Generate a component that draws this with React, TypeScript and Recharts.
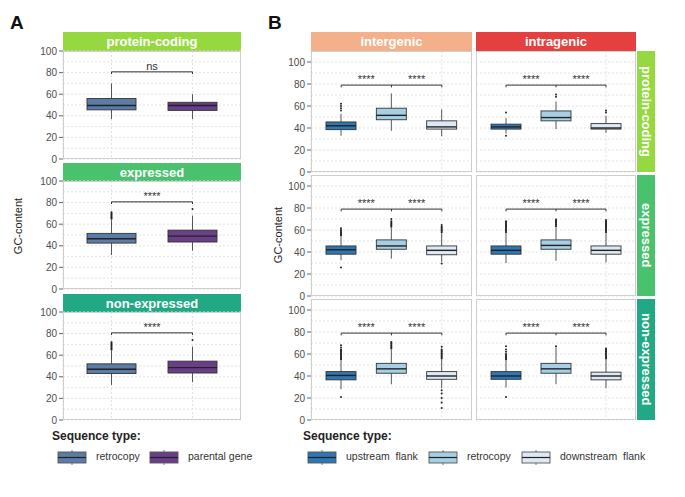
import React from 'react';
import { ComposedChart, Bar, XAxis, YAxis, ReferenceLine, CartesianGrid } from 'recharts';

// ---------- categories & colours ----------
const aTypes = ['retrocopy', 'parental gene'];
const aColors = ['#5a7ca6', '#6a3f8a'];
const facets = ['protein-coding', 'expressed', 'non-expressed'];
const facetColors = ['#95d840', '#4ac16d', '#22a884'];
const bTypes = ['upstream flank', 'retrocopy', 'downstream flank'];
const bColors = ['#2f77b2', '#a6cfe5', '#dde9f5'];
const bColumns = ['intergenic', 'intragenic'];
const bColumnColors = ['#f4b08a', '#e4403f'];
const yTicks = [0, 20, 40, 60, 80, 100];
const gridValues = [0, 10, 20, 30, 40, 50, 60, 70, 80, 90, 100];
const aSignif = ['ns', '****', '****'];
const bSignif = ['****', '****'];

// ---------- box statistics (GC-content) ----------
const aProteinCoding = [
  { type: 'retrocopy', lo: 37, q1: 45.5, med: 49.5, q3: 56, hi: 70, out: [] },
  { type: 'parental gene', lo: 37, q1: 45, med: 49.5, q3: 52.5, hi: 60, out: [] },
];
const aExpressed = [
  { type: 'retrocopy', lo: 31.5, q1: 42.5, med: 46.5, q3: 51.5, hi: 64, out: [65, 66, 67, 68, 69, 70, 71] },
  { type: 'parental gene', lo: 35.5, q1: 43.5, med: 49, q3: 54.5, hi: 68, out: [74] },
];
const aNonExpressed = [
  { type: 'retrocopy', lo: 32.5, q1: 43, med: 47, q3: 52, hi: 64, out: [65, 66, 67, 68, 69, 70, 71, 72] },
  { type: 'parental gene', lo: 35, q1: 43.5, med: 48.5, q3: 54.5, hi: 68, out: [74] },
];

const bInterProtein = [
  { type: 'upstream flank', lo: 33, q1: 38.5, med: 42, q3: 45.5, hi: 53, out: [56, 58, 60, 62] },
  { type: 'retrocopy', lo: 37.5, q1: 47.5, med: 51.5, q3: 58, hi: 71.5, out: [] },
  { type: 'downstream flank', lo: 32.5, q1: 39, med: 41, q3: 46.5, hi: 57, out: [] },
];
const bIntraProtein = [
  { type: 'upstream flank', lo: 35, q1: 39, med: 41, q3: 43.5, hi: 49, out: [54, 33] },
  { type: 'retrocopy', lo: 39, q1: 46.5, med: 49.5, q3: 55.5, hi: 64, out: [68.5, 70.5] },
  { type: 'downstream flank', lo: 35.5, q1: 39, med: 40, q3: 44, hi: 51, out: [54, 56] },
];
const bInterExpressed = [
  { type: 'upstream flank', lo: 32.5, q1: 38, med: 42, q3: 45.5, hi: 54, out: [55, 56, 57, 58, 59, 60, 61.5, 26] },
  { type: 'retrocopy', lo: 34, q1: 42.5, med: 45.5, q3: 51, hi: 62, out: [63, 64, 65, 66, 67, 68, 70] },
  { type: 'downstream flank', lo: 31, q1: 37.5, med: 41.5, q3: 45.5, hi: 57, out: [58, 59, 60, 61, 62, 63, 64.5, 29.5] },
];
const bIntraExpressed = [
  { type: 'upstream flank', lo: 30, q1: 38, med: 41.5, q3: 45.5, hi: 57, out: [58, 59, 60, 61, 62, 63, 64, 65, 66, 67, 68] },
  { type: 'retrocopy', lo: 32, q1: 42.5, med: 46, q3: 51, hi: 62.5, out: [63.5, 64.5, 65.5, 66.5, 67.5, 68.5, 69.5] },
  { type: 'downstream flank', lo: 30.5, q1: 38, med: 41.5, q3: 45.5, hi: 57, out: [58, 59, 60, 61, 62, 63, 64, 65, 66, 67, 68, 69] },
];
const bInterNonExpressed = [
  { type: 'upstream flank', lo: 28, q1: 36.5, med: 40.5, q3: 44, hi: 54, out: [55, 56, 57, 58, 59, 60, 61, 62, 63, 64, 66, 68, 21] },
  { type: 'retrocopy', lo: 32.5, q1: 42.5, med: 46.5, q3: 51.5, hi: 64, out: [65, 66, 67, 68, 69, 70, 71] },
  { type: 'downstream flank', lo: 29, q1: 37, med: 40, q3: 44, hi: 55, out: [56, 57, 58, 59, 60, 61, 62, 63, 64, 66.5, 27, 24, 20, 16, 11] },
];
const bIntraNonExpressed = [
  { type: 'upstream flank', lo: 29.5, q1: 37, med: 40, q3: 44, hi: 54, out: [55, 56, 57, 58, 59, 60, 62, 64, 67, 21] },
  { type: 'retrocopy', lo: 32.5, q1: 42.5, med: 46.5, q3: 51.5, hi: 66, out: [67] },
  { type: 'downstream flank', lo: 29, q1: 36.5, med: 40, q3: 43.5, hi: 55, out: [56, 57, 58, 59, 60, 61, 62, 63, 64, 65] },
];

const aPanels = [aProteinCoding, aExpressed, aNonExpressed];
const bPanels = [
  [bInterProtein, bIntraProtein],
  [bInterExpressed, bIntraExpressed],
  [bInterNonExpressed, bIntraNonExpressed],
];

// ---------- layout ----------
const FONT = '"Liberation Sans", Arial, Helvetica, sans-serif';
const EXT = 8;
const aLeft = 63, aWidth = 178;
const aStripTops = [32, 163, 294];
const aPlotTops = [51, 181, 312];
const aPlotH = 108;
const bColLefts = [311, 476];
const bColWidths = [161, 160];
const bPlotTops = [51, 175, 299];
const bPlotH = 121;

const colorOf = (types: string[], colors: string[]) => (t: string) => colors[types.indexOf(t)];

const makeShape = (getColor: (t: string) => string) => (props: any) => {
  const { x, y, width, height, payload } = props;
  const top = Math.min(y, y + height);
  const hpx = Math.abs(height);
  const k = hpx / (payload.hi - payload.lo);
  const Y = (v: number) => top + (payload.hi - v) * k;
  const cx = x + width / 2;
  return (
    <g>
      <line x1={cx} x2={cx} y1={Y(payload.hi)} y2={Y(payload.q3)} stroke="#444" strokeWidth={0.9} />
      <line x1={cx} x2={cx} y1={Y(payload.q1)} y2={Y(payload.lo)} stroke="#444" strokeWidth={0.9} />
      <rect x={x} y={Y(payload.q3)} width={width} height={Y(payload.q1) - Y(payload.q3)} fill={getColor(payload.type)} stroke="#333" strokeWidth={0.9} />
      <line x1={x} x2={x + width} y1={Y(payload.med)} y2={Y(payload.med)} stroke="#222" strokeWidth={1.4} />
      {payload.out.map((v: number, i: number) => (
        <circle key={i} cx={cx} cy={Y(v)} r={1} fill="#222" />
      ))}
    </g>
  );
};

const textShape = (label: string) => (p: any) => (
  <text x={(p.x1 + p.x2) / 2} y={p.y1} textAnchor="middle" fontSize={11} fill="#333" fontFamily={FONT}>
    {label}
  </text>
);

type PanelProps = {
  data: any[];
  types: string[];
  colors: string[];
  left: number;
  top: number;
  width: number;
  height: number;
  yMax: number;
  showAxis: boolean;
  pad: number;
  barSize: number;
  bracketY: number;
  labelY: number;
  labels: string[];
};

function Panel(p: PanelProps) {
  const axisW = p.showAxis ? 40 : 0;
  const first = p.types[0];
  const last = p.types[p.types.length - 1];
  return (
    <div style={{ position: 'absolute', left: p.left - axisW, top: p.top - EXT }}>
      <ComposedChart
        width={p.width + axisW}
        height={p.height + 2 * EXT}
        data={p.data}
        margin={{ top: EXT, right: 0, bottom: EXT, left: 0 }}
        style={{ overflow: 'visible' }}
      >
        <CartesianGrid horizontalValues={gridValues} stroke="#e2e2e2" strokeDasharray="2 2" />
        <XAxis dataKey="type" type="category" hide padding={{ left: p.pad, right: p.pad }} />
        <YAxis
          type="number"
          domain={[0, p.yMax]}
          ticks={yTicks}
          interval={0}
          width={axisW}
          hide={!p.showAxis}
          axisLine={false}
          tickSize={4}
          tickLine={{ stroke: '#666' }}
          tick={{ fontSize: 10, fill: '#4d4d4d', fontFamily: FONT }}
        />
        <Bar
          dataKey={(d: any) => [d.lo, d.hi]}
          barSize={p.barSize}
          isAnimationActive={false}
          shape={makeShape(colorOf(p.types, p.colors))}
        />
        <ReferenceLine
          segment={[{ x: first, y: p.bracketY }, { x: last, y: p.bracketY }]}
          stroke="#333"
          strokeWidth={1}
        />
        {p.types.map((t) => (
          <ReferenceLine
            key={'tk' + t}
            segment={[{ x: t, y: p.bracketY }, { x: t, y: p.bracketY - 2 }]}
            stroke="#333"
            strokeWidth={1}
          />
        ))}
        {p.labels.map((lab, i) => (
          <ReferenceLine
            key={'lb' + i}
            segment={[{ x: p.types[i], y: p.labelY }, { x: p.types[i + 1], y: p.labelY }]}
            shape={textShape(lab)}
          />
        ))}
      </ComposedChart>
      <div
        style={{
          position: 'absolute',
          left: axisW,
          top: EXT,
          width: p.width,
          height: p.height,
          border: '1px solid #cfcfcf',
          boxSizing: 'border-box',
          pointerEvents: 'none',
        }}
      />
    </div>
  );
}

const stripText: React.CSSProperties = {
  position: 'absolute',
  color: '#fff',
  fontWeight: 700,
  fontSize: 13,
  fontFamily: FONT,
  display: 'flex',
  alignItems: 'center',
  justifyContent: 'center',
  boxSizing: 'border-box',
};

function LegendKey({ color }: { color: string }) {
  return (
    <svg width={30} height={15} style={{ position: 'absolute', left: 0, top: -2 }}>
      <line x1={15} x2={15} y1={0} y2={15} stroke="#666" strokeWidth={0.9} />
      <rect x={1} y={2} width={28} height={11} fill={color} stroke="#555" strokeWidth={0.9} />
      <line x1={1} x2={29} y1={7.5} y2={7.5} stroke="#222" strokeWidth={1.2} />
    </svg>
  );
}

function Legend({ left, types, colors, keyXs }: { left: number; types: string[]; colors: string[]; keyXs: number[] }) {
  return (
    <>
      <div style={{ position: 'absolute', left, top: 429, fontFamily: FONT, fontWeight: 700, fontSize: 12, color: '#222' }}>
        Sequence type:
      </div>
      {types.map((t, i) => (
        <div key={t} style={{ position: 'absolute', left: keyXs[i], top: 452, height: 11 }}>
          <LegendKey color={colors[i]} />
          <div style={{ position: 'absolute', left: 39, top: -2, whiteSpace: 'pre', fontFamily: FONT, fontSize: 10.5, color: '#333' }}>
            {t.replace(' flank', '  flank')}
          </div>
        </div>
      ))}
    </>
  );
}

export default function App() {
  return (
    <div style={{ position: 'absolute', left: 0, top: 0, width: 685, height: 497, background: '#fff', fontFamily: FONT, overflow: 'hidden' }}>
      <div style={{ position: 'absolute', left: 10, top: 12, fontSize: 19, fontWeight: 700, color: '#111' }}>A</div>
      <div style={{ position: 'absolute', left: 268, top: 12, fontSize: 19, fontWeight: 700, color: '#111' }}>B</div>

      {/* Panel A */}
      {aPanels.map((data, r) => (
        <React.Fragment key={'a' + r}>
          <div style={{ ...stripText, left: aLeft, top: aStripTops[r], width: aWidth, height: aPlotTops[r] - aStripTops[r], background: facetColors[r] }}>
            {facets[r]}
          </div>
          <Panel
            data={data}
            types={aTypes}
            colors={aColors}
            left={aLeft}
            top={aPlotTops[r]}
            width={aWidth}
            height={aPlotH}
            yMax={100}
            showAxis
            pad={8}
            barSize={49}
            bracketY={80.7}
            labelY={82.6}
            labels={[aSignif[r]]}
          />
        </React.Fragment>
      ))}
      <div style={{ position: 'absolute', left: 18, top: 226, transform: 'translate(-50%,-50%) rotate(-90deg)', fontSize: 11, color: '#222', whiteSpace: 'nowrap' }}>
        GC-content
      </div>

      {/* Panel B */}
      {bColumns.map((c, j) => (
        <div key={c} style={{ ...stripText, left: bColLefts[j], top: 32, width: bColWidths[j], height: 19, background: bColumnColors[j] }}>
          {c}
        </div>
      ))}
      {bPanels.map((row, r) => (
        <React.Fragment key={'b' + r}>
          {row.map((data, j) => (
            <Panel
              key={'b' + r + j}
              data={data}
              types={bTypes}
              colors={bColors}
              left={bColLefts[j]}
              top={bPlotTops[r]}
              width={bColWidths[j]}
              height={bPlotH}
              yMax={110}
              showAxis={j === 0}
              pad={5}
              barSize={30}
              bracketY={79}
              labelY={81}
              labels={bSignif}
            />
          ))}
          <div
            style={{
              ...stripText,
              left: 637,
              top: bPlotTops[r],
              width: 18,
              height: bPlotH,
              background: facetColors[r],
              writingMode: 'vertical-rl',
            }}
          >
            {facets[r]}
          </div>
        </React.Fragment>
      ))}
      <div style={{ position: 'absolute', left: 278, top: 235, transform: 'translate(-50%,-50%) rotate(-90deg)', fontSize: 11, color: '#222', whiteSpace: 'nowrap' }}>
        GC-content
      </div>

      <Legend left={52} types={aTypes} colors={aColors} keyXs={[57, 149]} />
      <Legend left={303} types={bTypes} colors={bColors} keyXs={[307, 428, 521]} />
    </div>
  );
}
